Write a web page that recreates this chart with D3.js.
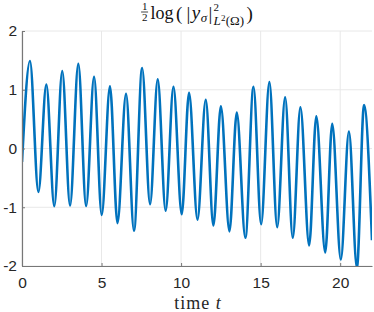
<!DOCTYPE html>
<html>
<head>
<meta charset="utf-8">
<script src="https://cdn.jsdelivr.net/npm/d3@7"></script>
<style>
  body { margin: 0; background: #fff; }
  svg { display: block; }
</style>
</head>
<body>
<svg id="chart" width="374" height="312"></svg>
<script>
// Extrema of the curve (time, value)
const times = [0, 0.5, 1.03, 1.53, 2.03, 2.53, 3.02, 3.54, 4.03, 4.53, 5.01, 5.53, 6.0, 6.54,
  7.04, 7.55, 8.05, 8.53, 9.03, 9.52, 10.04, 10.5, 11.03, 11.55, 12.03, 12.5, 13.04, 13.5,
  14.04, 14.55, 15.03, 15.55, 16.04, 16.54, 17.02, 17.5, 18.05, 18.5, 19.06, 19.5, 20.04,
  20.55, 21.05, 21.5, 22];
const values = [-0.23, 1.49, -0.74, 1.09, -0.98, 1.32, -0.97, 1.44, -0.98, 1.22, -1.13, 1.06, -1.27, 0.93,
  -1.4, 1.37, -0.95, 1.18, -1.06, 1.05, -1.12, 0.95, -1.21, 0.83, -1.31, 0.72, -1.41, 0.61,
  -1.52, 1.05, -1.29, 1.13, -1.34, 0.87, -1.52, 0.70, -1.65, 0.55, -1.77, 0.42, -1.89,
  0.29, -2.03, 0.74, -1.56];
const xTicks = [0, 5, 10, 15, 20];
const yTicks = [-2, -1, 0, 1, 2];

const margin = { top: 31, right: 2, bottom: 46, left: 22 };
const width = 374, height = 312;

const svg = d3.select('#chart');

const x = d3.scaleLinear().domain([0, 22]).range([margin.left, width - margin.right]);
const y = d3.scaleLinear().domain([-2, 2]).range([height - margin.bottom, margin.top]);

// Grid
svg.append('g')
  .selectAll('line')
  .data(xTicks)
  .enter().append('line')
  .attr('x1', d => x(d)).attr('x2', d => x(d))
  .attr('y1', y(-2)).attr('y2', y(2))
  .attr('stroke', '#e8e8e8').attr('stroke-width', 1);

svg.append('g')
  .selectAll('line')
  .data(yTicks)
  .enter().append('line')
  .attr('x1', x(0)).attr('x2', x(22))
  .attr('y1', d => y(d)).attr('y2', d => y(d))
  .attr('stroke', '#e8e8e8').attr('stroke-width', 1);

// Clip region for the data line
svg.append('clipPath').attr('id', 'clip')
  .append('rect')
  .attr('x', x(0)).attr('y', y(2))
  .attr('width', x(22) - x(0)).attr('height', y(-2) - y(2));

const line = d3.line()
  .x(d => x(d[0]))
  .y(d => y(d[1]))
  .curve(d3.curveMonotoneX);

svg.append('path')
  .datum(d3.zip(times, values))
  .attr('clip-path', 'url(#clip)')
  .attr('fill', 'none')
  .attr('stroke', '#0072BD')
  .attr('stroke-width', 2.6)
  .attr('stroke-linejoin', 'round')
  .attr('d', line);

// Axes
const xAxis = svg.append('g')
  .attr('transform', `translate(0,${y(-2)})`)
  .call(d3.axisBottom(x).tickValues(xTicks).tickSize(-3).tickPadding(11).tickSizeOuter(0));

const yAxis = svg.append('g')
  .attr('transform', `translate(${x(0)},0)`)
  .call(d3.axisLeft(y).tickValues(yTicks).tickSize(-3).tickPadding(5).tickSizeOuter(0)
    .tickFormat(d => String(d)));

[xAxis, yAxis].forEach(a => {
  a.select('.domain').attr('stroke', '#777').attr('stroke-width', 1.2);
  a.selectAll('.tick line').attr('stroke', '#777');
  a.selectAll('.tick text')
    .attr('fill', '#262626')
    .attr('font-family', 'Liberation Sans, Arial, sans-serif')
    .attr('font-size', '15.5px');
});

const serif = "'Liberation Serif', 'Times New Roman', serif";

// X label
svg.append('text')
  .attr('x', (x(0) + x(22)) / 2 + 1)
  .attr('y', 308.5)
  .attr('text-anchor', 'middle')
  .attr('font-family', serif)
  .attr('font-size', '18px')
  .attr('letter-spacing', '1px')
  .attr('fill', '#262626')
  .html('time <tspan font-style="italic">t</tspan>');

// Title: 1/2 log(|y_sigma|^2_{L^2(Omega)}), laid out piece by piece
const title = svg.append('g');
let cx = 0;
const put = (str, size, base, italic, at) => {
  const t = title.append('text')
    .attr('x', at !== undefined ? at : cx)
    .attr('y', base)
    .attr('font-family', serif)
    .attr('font-size', size + 'px')
    .attr('font-style', italic ? 'italic' : 'normal')
    .attr('fill', '#111')
    .text(str);
  return t.node().getComputedTextLength();
};

put('1', 11, 10, false, 0.8);
title.append('line').attr('x1', 0).attr('x2', 7).attr('y1', 12).attr('y2', 12)
  .attr('stroke', '#111').attr('stroke-width', 0.8);
put('2', 11, 21, false, 0.8);
cx = 9.5;
cx += put('log', 18, 19, false) + 2.5;
cx += put('(', 19, 20, false) + 4;
cx += put('|', 19, 20, false) + 1.5;
cx += put('y', 19, 19, true) + 0.5;
cx += put('σ', 13, 22, true) + 1.5;
cx += put('|', 19, 20, false) + 1;
const sx0 = cx;
put('2', 11, 11, false, sx0);
let sx = sx0;
sx += put('L', 13, 25, true, sx) + 0.3;
sx += put('2', 9, 21, false, sx) + 0.3;
sx += put('(Ω)', 13, 25, false, sx);
cx = sx + 2.5;
cx += put(')', 19, 20, false);

title.attr('transform', `translate(${(x(0) + x(22)) / 2 - cx / 2},0)`);
</script>
</body>
</html>
